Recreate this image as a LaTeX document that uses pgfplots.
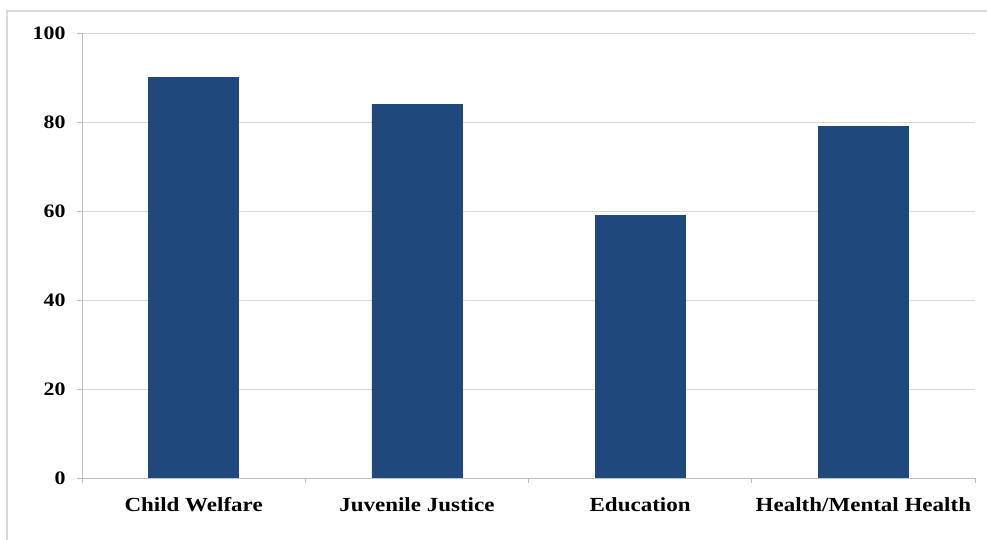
\documentclass[border=0pt]{standalone}
\usepackage{fontspec}
\setmainfont[FakeStretch=1.15]{Liberation Serif}
\usepackage{pgfplots}
\pgfplotsset{compat=1.18}
\definecolor{barblue}{HTML}{1F497D}
\definecolor{gridgray}{HTML}{D9D9D9}
\definecolor{axisgray}{HTML}{BFBFBF}
\definecolor{framegray}{HTML}{D9D9D9}
\begin{document}
\begin{tikzpicture}
  % page area and chart frame
  \path[use as bounding box] (0pt,0pt) rectangle (987pt,540pt);
  \draw[framegray, line width=2pt] (6.5pt,-5pt) -- (6.5pt,529pt) -- (995pt,529pt);
  \begin{axis}[
    at={(82pt,62pt)}, anchor=south west,
    scale only axis, width=893pt, height=445pt,
    xmin=-0.5, xmax=3.5, ymin=0, ymax=100,
    ybar, bar width=90pt,
    axis x line*=bottom, axis y line*=left,
    axis line style={axisgray, line width=0.8pt, -},
    % tick marks between categories, names at the category centres
    xtick={-0.5,0.5,1.5,2.5,3.5},
    xticklabels={},
    extra x ticks={0,1,2,3},
    extra x tick labels={Child Welfare, Juvenile Justice, Education, Health/Mental Health},
    extra x tick style={major tick length=0pt, grid=none},
    ytick={0,20,40,60,80,100},
    ymajorgrids, grid style={gridgray, line width=0.8pt},
    tick style={axisgray, line width=0.8pt},
    tick align=outside, major tick length=5pt,
    /pgf/number format/assume math mode=true,
    ticklabel style={font=\fontsize{19}{22}\selectfont\bfseries, text=black},
    yticklabel style={xshift=-8pt},
    xticklabel style={font=\fontsize{20}{23}\selectfont\bfseries, yshift=-16pt},
  ]
    \addplot[fill=barblue, draw=barblue] coordinates {(0,90) (1,84) (2,59) (3,79)};
  \end{axis}
\end{tikzpicture}
\end{document}
